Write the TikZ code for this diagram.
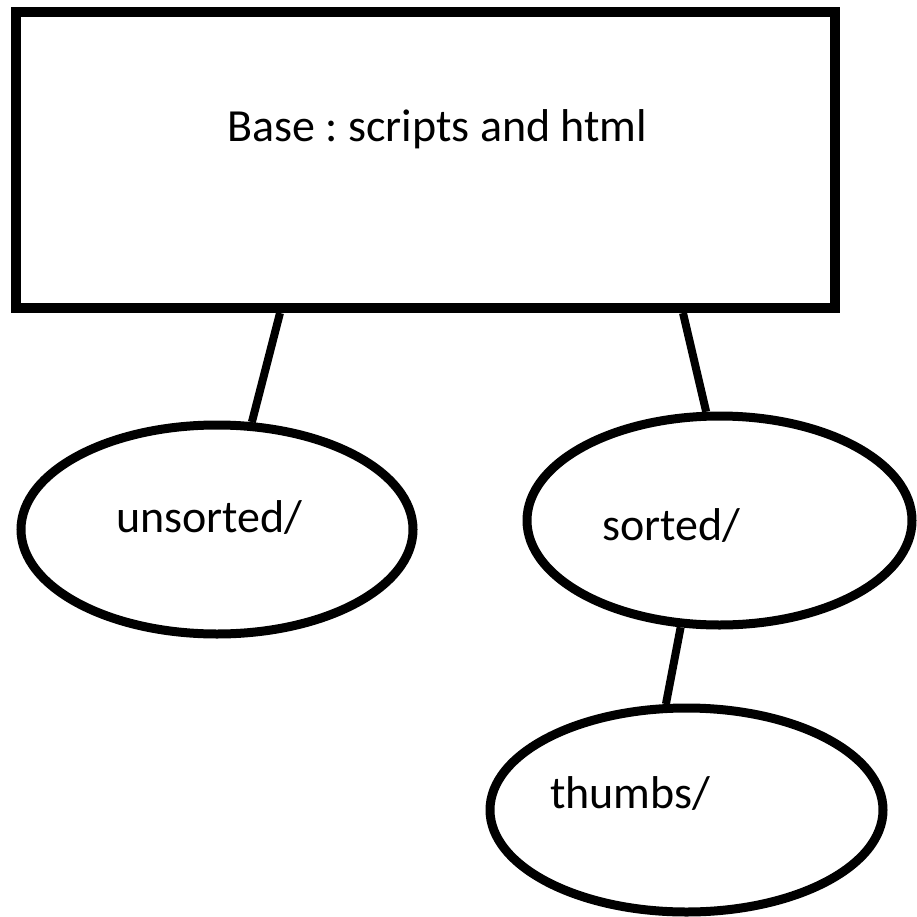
\documentclass[tikz,border=0pt]{standalone}
\usepackage{fontspec}
\setmainfont{Carlito}
\usetikzlibrary{shapes.geometric}
\frenchspacing
\begin{document}
\begin{tikzpicture}[x=1pt,y=-1pt,
  boxstyle/.style={draw=black,line width=10pt,rectangle,inner sep=0pt},
  ovalstyle/.style={draw=black,line width=9pt,ellipse,inner sep=0pt},
  linkstyle/.style={draw=black,line width=8pt},
  labelstyle/.style={anchor=base west,inner sep=0pt,font=\fontsize{46}{55}\selectfont}]
\useasboundingbox[fill=white] (0,0) rectangle (917,917);
\node[boxstyle,minimum width=819pt,minimum height=296pt] (box) at (425.5,160) {};
\node[ovalstyle,minimum width=392pt,minimum height=209pt] (unsorted) at (217,529.5) {};
\node[ovalstyle,minimum width=385pt,minimum height=209pt] (sorted) at (719.5,520.5) {};
\node[ovalstyle,minimum width=393pt,minimum height=204pt] (thumbs) at (686.5,810) {};
\node[labelstyle] (tbase) at (227,142) {Base : scripts and html};
\node[labelstyle] (tunsorted) at (116,532) {unsorted/};
\node[labelstyle] (tsorted) at (602,540) {sorted/};
\node[labelstyle] (tthumbs) at (550,808) {thumbs/};
\draw[linkstyle] ([xshift=-145.5pt]box.south) -- (unsorted.72);
\draw[linkstyle] ([xshift=257.5pt]box.south) -- (sorted.97);
\draw[linkstyle] (sorted.250) -- (thumbs.101);
\end{tikzpicture}
\end{document}
